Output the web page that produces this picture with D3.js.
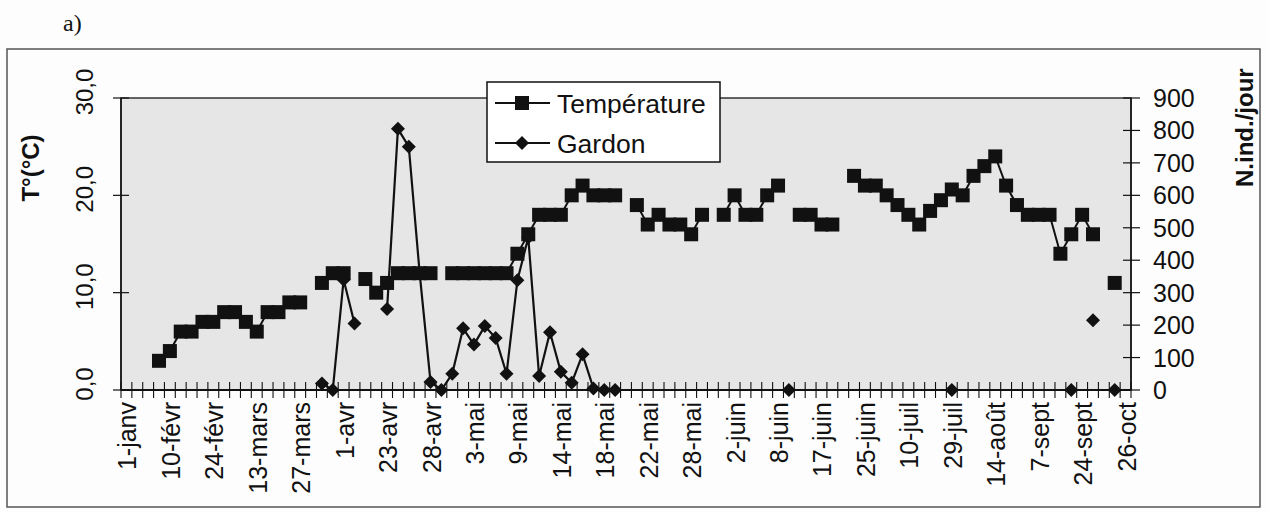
<!DOCTYPE html>
<html>
<head>
<meta charset="utf-8">
<script src="https://cdn.jsdelivr.net/npm/d3@7"></script>
<style>
  html, body { margin: 0; padding: 0; background: #fdfdfd; }
  svg { display: block; font-family: "Liberation Sans", Arial, sans-serif; }
</style>
</head>
<body>
<div id="chart"></div>
<script>
// Categories (sampling dates); only every 4th one carries a label
const nCategories = 93;
const tickLabels = ['1-janv', '10-févr', '24-févr', '13-mars', '27-mars', '1-avr', '23-avr', '28-avr',
    '3-mai', '9-mai', '14-mai', '18-mai', '22-mai', '28-mai', '2-juin', '8-juin', '17-juin', '25-juin',
    '10-juil', '29-juil', '14-août', '7-sept', '24-sept', '26-oct'];
const labelEvery = 4;

// Temperature (°C), one value per category, null = no measure
const temperature = [
    null, null, null, 3, 4, 6, 6, 7, 7, 8,
    8, 7, 6, 8, 8, 9, 9, null, 11, 12,
    12, null, 11.4, 10, 11, 12, 12, 12, 12, null,
    12, 12, 12, 12, 12, 12, 14, 16, 18, 18,
    18, 20, 21, 20, 20, 20, null, 19, 17, 18,
    17, 17, 16, 18, null, 18, 20, 18, 18, 20,
    21, null, 18, 18, 17, 17, null, 22, 21, 21,
    20, 19, 18, 17, 18.4, 19.5, 20.6, 20, 22, 23,
    24, 21, 19, 18, 18, 18, 14, 16, 18, 16,
    null, 11, null
];

// Gardon (N.ind./jour)
const gardon = [
    null, null, null, null, null, null, null, null, null, null,
    null, null, null, null, null, null, null, null, 20, 0,
    340, 205, null, null, 250, 805, 750, 360, 25, 0,
    50, 190, 140, 197, 160, 50, 338, 470, 43, 178,
    56, 22, 110, 5, 0, 0, null, null, null, null,
    null, null, null, null, null, null, null, null, null, null,
    null, 0, null, null, null, null, null, null, null, null,
    null, null, null, null, null, null, 0, null, null, null,
    null, null, null, null, null, null, null, 0, null, 215,
    null, 0, null
];

const tempTicks = [0, 10, 20, 30];
const gardonTicks = [0, 100, 200, 300, 400, 500, 600, 700, 800, 900];

const width = 1268;
const height = 512;
const plot = { left: 121, right: 1131, top: 98, bottom: 390 };
const ink = '#111';

const svg = d3.select('#chart')
    .append('svg')
    .attr('width', width)
    .attr('height', height);

// Scales
const x = d3.scaleBand()
    .domain(d3.range(nCategories))
    .range([plot.left, plot.right]);
const cx = i => x(i) + x.bandwidth() / 2;
const yT = d3.scaleLinear().domain([0, 30]).range([plot.bottom, plot.top]);
const yN = d3.scaleLinear().domain([0, 900]).range([plot.bottom, plot.top]);

const frFormat = d3.formatLocale({ decimal: ',', thousands: ' ', grouping: [3], currency: ['', ' €'] }).format('.1f');

// Panel letter
svg.append('text')
    .attr('x', 63)
    .attr('y', 31)
    .attr('font-family', '"Liberation Serif", "Times New Roman", serif')
    .attr('font-size', '24px')
    .attr('fill', ink)
    .text('a)');

// Chart frame
svg.append('rect')
    .attr('x', 7).attr('y', 49)
    .attr('width', 1253).attr('height', 458)
    .attr('fill', '#fdfdfd')
    .attr('stroke', '#555')
    .attr('stroke-width', 1.5);

// Plot area
svg.append('rect')
    .attr('x', plot.left).attr('y', plot.top)
    .attr('width', plot.right - plot.left)
    .attr('height', plot.bottom - plot.top)
    .attr('fill', '#e6e6e6')
    .attr('stroke', '#333')
    .attr('stroke-width', 1.5);

// Left axis
const left = svg.append('g');
left.append('line')
    .attr('x1', plot.left).attr('x2', plot.left)
    .attr('y1', plot.top).attr('y2', plot.bottom)
    .attr('stroke', ink).attr('stroke-width', 1.5);
left.selectAll('line.tick')
    .data(tempTicks)
    .enter().append('line')
    .attr('class', 'tick')
    .attr('x1', plot.left - 8).attr('x2', plot.left + 8)
    .attr('y1', d => yT(d)).attr('y2', d => yT(d))
    .attr('stroke', ink).attr('stroke-width', 1.2);
left.selectAll('text')
    .data(tempTicks)
    .enter().append('text')
    .attr('transform', d => `translate(93,${yT(d) - 6}) rotate(-90)`)
    .attr('text-anchor', 'middle')
    .attr('font-size', '24px')
    .attr('fill', ink)
    .text(d => frFormat(d));
svg.append('text')
    .attr('transform', 'translate(39,168) rotate(-90)')
    .attr('text-anchor', 'middle')
    .attr('font-size', '24px')
    .attr('font-weight', 'bold')
    .attr('fill', ink)
    .text('T°(°C)');

// Right axis
const right = svg.append('g');
right.append('line')
    .attr('x1', plot.right).attr('x2', plot.right)
    .attr('y1', plot.top).attr('y2', plot.bottom)
    .attr('stroke', ink).attr('stroke-width', 1.5);
right.selectAll('line.tick')
    .data(gardonTicks)
    .enter().append('line')
    .attr('class', 'tick')
    .attr('x1', plot.right - 8).attr('x2', plot.right + 9)
    .attr('y1', d => yN(d)).attr('y2', d => yN(d))
    .attr('stroke', ink).attr('stroke-width', 1.2);
right.selectAll('text')
    .data(gardonTicks)
    .enter().append('text')
    .attr('x', 1153)
    .attr('y', d => yN(d))
    .attr('dy', '0.36em')
    .attr('font-size', '25px')
    .attr('fill', ink)
    .text(d => d);
svg.append('text')
    .attr('transform', 'translate(1253,187) rotate(-90)')
    .attr('text-anchor', 'start')
    .attr('font-size', '24px')
    .attr('font-weight', 'bold')
    .attr('fill', ink)
    .text('N.ind./jour');

// Bottom axis
const bottom = svg.append('g');
bottom.append('line')
    .attr('x1', plot.left).attr('x2', plot.right)
    .attr('y1', plot.bottom).attr('y2', plot.bottom)
    .attr('stroke', ink).attr('stroke-width', 1.8);
bottom.selectAll('line.tick')
    .data(d3.range(nCategories + 1))
    .enter().append('line')
    .attr('class', 'tick')
    .attr('x1', i => i < nCategories ? x(i) : plot.right)
    .attr('x2', i => i < nCategories ? x(i) : plot.right)
    .attr('y1', plot.bottom - 8).attr('y2', plot.bottom + 8)
    .attr('stroke', ink).attr('stroke-width', 1.1);
bottom.selectAll('text')
    .data(tickLabels)
    .enter().append('text')
    .attr('transform', (d, k) => `translate(${cx(k * labelEvery) + 1},402) rotate(-90)`)
    .attr('text-anchor', 'end')
    .attr('dy', '0.36em')
    .attr('font-size', '25px')
    .attr('fill', ink)
    .text(d => d);

// Series
const tempLine = d3.line()
    .defined(d => d != null)
    .x((d, i) => cx(i))
    .y(d => yT(d));
const gardonLine = d3.line()
    .defined(d => d != null)
    .x((d, i) => cx(i))
    .y(d => yN(d));

const sq = 14;
const diamond = 'M0,-7L7,0L0,7L-7,0Z';

svg.append('path')
    .attr('d', tempLine(temperature))
    .attr('fill', 'none')
    .attr('stroke', ink)
    .attr('stroke-width', 2);
svg.append('g')
    .selectAll('rect')
    .data(temperature.map((v, i) => ({ v, i })).filter(d => d.v != null))
    .enter().append('rect')
    .attr('x', d => cx(d.i) - sq / 2)
    .attr('y', d => yT(d.v) - sq / 2)
    .attr('width', sq).attr('height', sq)
    .attr('fill', ink);

svg.append('path')
    .attr('d', gardonLine(gardon))
    .attr('fill', 'none')
    .attr('stroke', ink)
    .attr('stroke-width', 2.2);
svg.append('g')
    .selectAll('path')
    .data(gardon.map((v, i) => ({ v, i })).filter(d => d.v != null))
    .enter().append('path')
    .attr('d', diamond)
    .attr('transform', d => `translate(${cx(d.i)},${yN(d.v)})`)
    .attr('fill', ink);

// Legend
const legend = svg.append('g');
legend.append('rect')
    .attr('x', 487).attr('y', 82)
    .attr('width', 233).attr('height', 80)
    .attr('fill', '#fff')
    .attr('stroke', ink)
    .attr('stroke-width', 1.5);
const legendItems = [
    { name: 'Température', marker: 'square', y: 103 },
    { name: 'Gardon', marker: 'diamond', y: 143 }
];
legendItems.forEach(item => {
    legend.append('line')
        .attr('x1', 495).attr('x2', 550)
        .attr('y1', item.y).attr('y2', item.y)
        .attr('stroke', ink).attr('stroke-width', 2);
    if (item.marker === 'square') {
        legend.append('rect')
            .attr('x', 522 - sq / 2).attr('y', item.y - sq / 2)
            .attr('width', sq).attr('height', sq)
            .attr('fill', ink);
    } else {
        legend.append('path')
            .attr('d', diamond)
            .attr('transform', `translate(522,${item.y})`)
            .attr('fill', ink);
    }
    legend.append('text')
        .attr('x', 557)
        .attr('y', item.y)
        .attr('dy', '0.36em')
        .attr('font-size', '26.5px')
        .attr('fill', ink)
        .text(item.name);
});
</script>
</body>
</html>
